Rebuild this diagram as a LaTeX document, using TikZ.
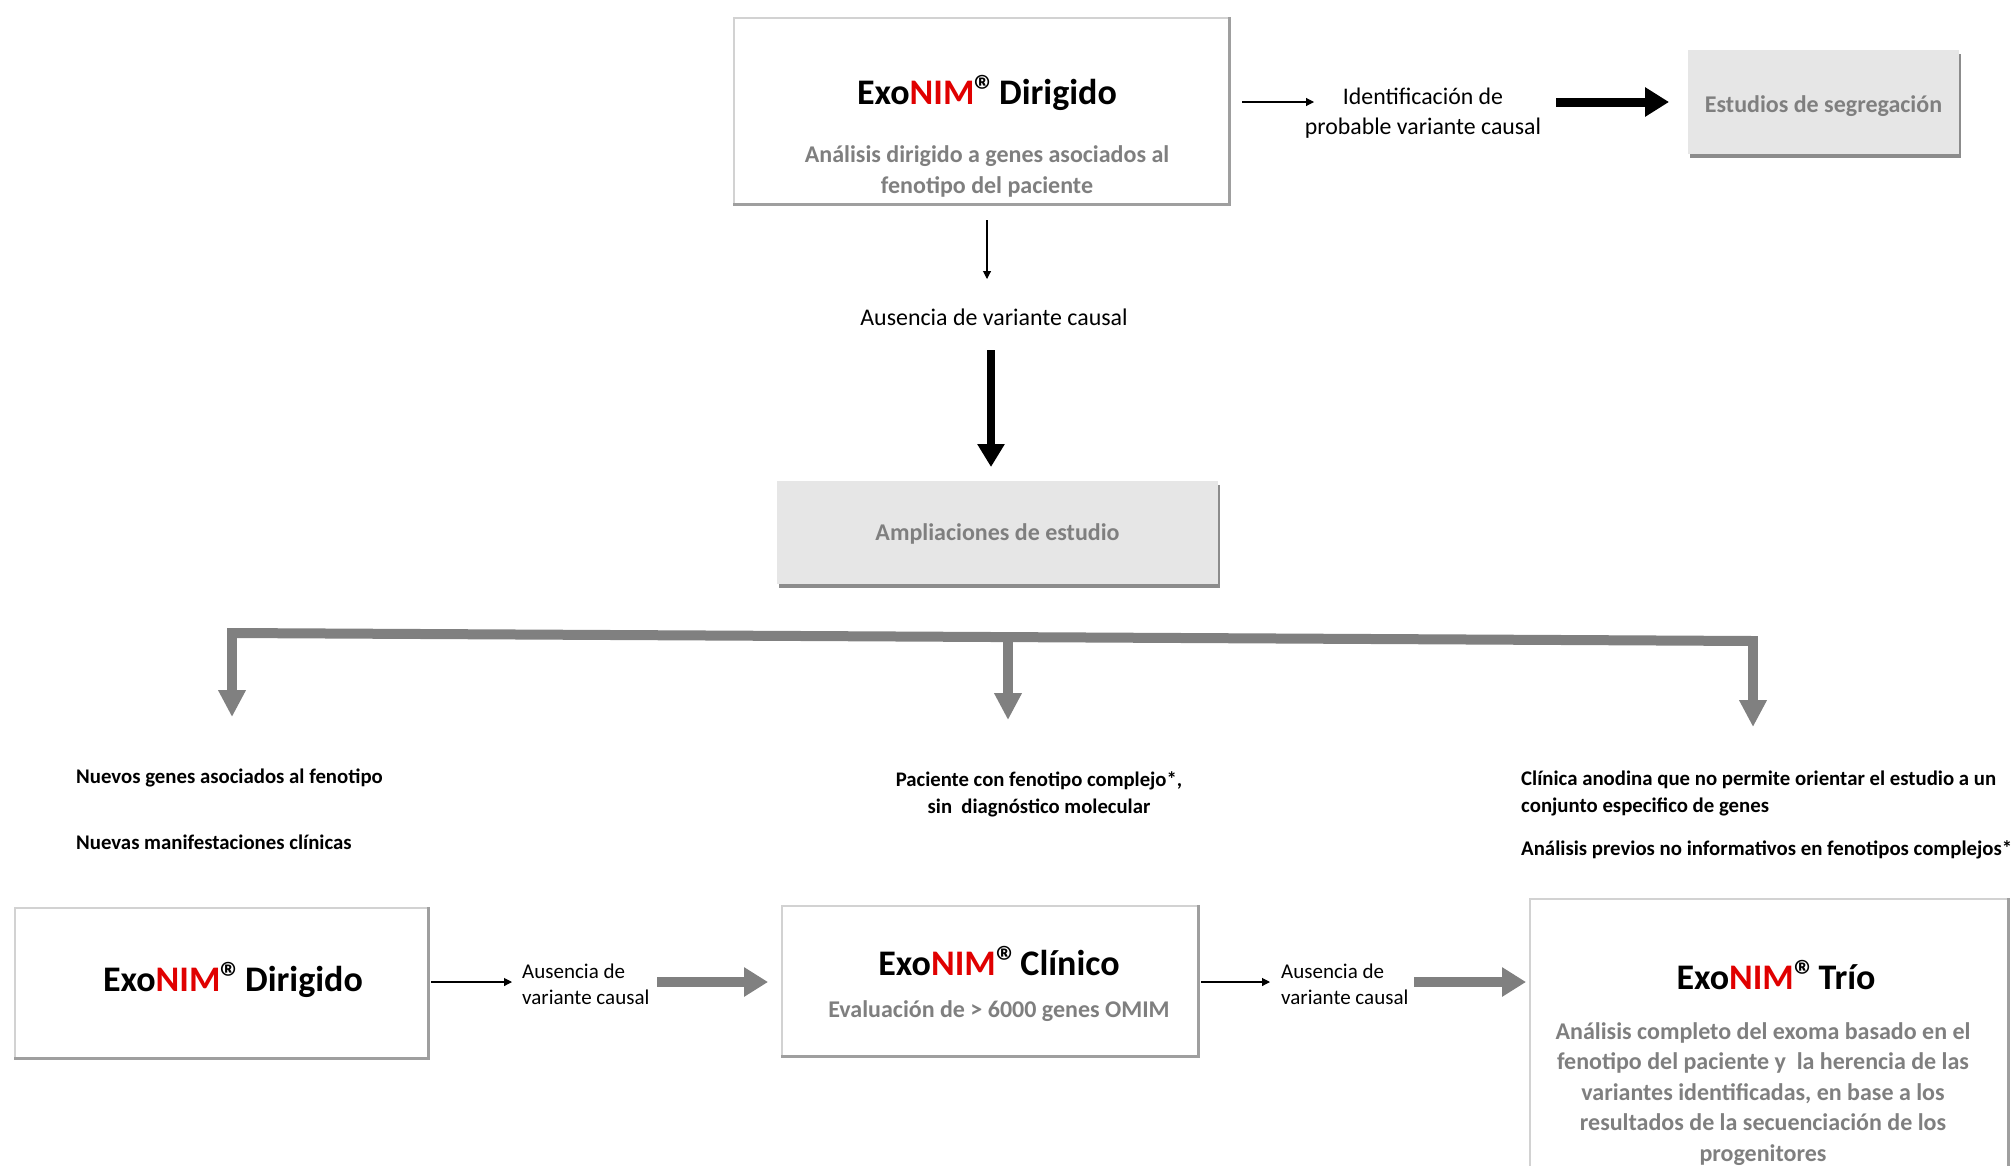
\documentclass[tikz,border=0pt]{standalone}
\usepackage{fontspec}
\usepackage{graphicx}
\setmainfont{Carlito}
\usetikzlibrary{arrows.meta,shadows}
\definecolor{nimred}{HTML}{E00000}
\definecolor{txtgray}{HTML}{7F7F7F}
\definecolor{boxgray}{HTML}{E6E6E6}
\definecolor{arrgray}{HTML}{808080}
\newcommand\regmark{\kern0.01em\raisebox{-0.03em}{\scalebox{1.2}{\textregistered}}\kern-0.16em}
\newcommand\exonim{Exo\textcolor{nimred}{NIM}\regmark}
\newcommand\fsz[2]{\fontsize{#1pt}{#2pt}\selectfont}
\begin{document}
\begin{tikzpicture}[x=1pt,y=-1pt,
  whitebox/.style={draw=gray!35,line width=1.5pt,fill=white,inner sep=0pt},
  bevel/.style={draw=gray!75,line width=3pt},
  graybox/.style={fill=boxgray,inner sep=0pt,
     drop shadow={shadow xshift=2pt,shadow yshift=-4pt,fill=black,opacity=0.45}},
  txt/.style={inner sep=0pt,align=center},
  thinarr/.style={line width=1.1pt,-{Triangle[width=8pt,length=8pt]}},
  blackarr/.style={line width=9pt,-{Triangle[width=28pt,length=24pt]}},
  gline/.style={draw=arrgray,line width=10pt},
  gtip/.style={arrgray,line width=10pt,-{Triangle[width=26pt,length=27pt]}},
  garr/.style={arrgray,line width=10pt,-{Triangle[width=28pt,length=24pt]}},
]
\useasboundingbox[fill=white] (0,0) rectangle (2016,1165);

% ---------- top row ----------
\node[whitebox,minimum width=495pt,minimum height=186pt] (top) at (981.5,111) {};
\draw[bevel] (top.north east) -- (top.south east) -- (top.south west);
\node[txt,font=\fsz{36}{43}\bfseries] (toptitle) at (987,93) {\exonim\ Dirigido};
\node[txt,font=\fsz{24}{31}\bfseries,text=txtgray] (topsub) at (987,171) {Análisis dirigido a genes asociados al\\fenotipo del paciente};

\node[txt,font=\fsz{23.8}{30}] (ident) at (1423,113) {Identificación de\\probable variante causal};
\node[graybox,minimum width=271pt,minimum height=104pt] (est) at (1823.5,102) {};
\node[txt,font=\fsz{24}{29}\bfseries,text=txtgray] (esttxt) at ([yshift=-4pt]est.center) {Estudios de segregación};

\coordinate (a1s) at (1242,102);
\coordinate (a1e) at (1314,102);
\draw[thinarr] (a1s) -- (a1e);
\coordinate (a2s) at (1556,102);
\coordinate (a2e) at (1669,102);
\draw[blackarr] (a2s) -- (a2e);

\coordinate (d1s) at (987,220);
\coordinate (d1e) at (987,279);
\draw[thinarr] (d1s) -- (d1e);
\node[txt,font=\fsz{23.9}{28}] (aus) at (994,317) {Ausencia de variante causal};
\coordinate (d2s) at (991,350);
\coordinate (d2e) at (991,467);
\draw[blackarr,line width=8pt,-{Triangle[width=26pt,length=23pt]}] (d2s) -- (d2e);

\node[graybox,minimum width=441pt,minimum height=103pt] (amp) at (997.5,532.5) {};
\node[txt,font=\fsz{24}{29}\bfseries,text=txtgray] (amptxt) at ([yshift=-1pt]amp.center) {Ampliaciones de estudio};

% ---------- bracket ----------
\coordinate (bl) at (232,633);
\coordinate (bm) at (1008,637);
\coordinate (br) at (1753,641);
\coordinate (tl) at (232,717);
\coordinate (tm) at (1008,720);
\coordinate (tr) at (1753,727);
\draw[gline] (bl) -- (br);
\draw[gtip] ([yshift=5pt]bl) -- (tl);
\draw[gtip] (bm) -- (tm);
\draw[gtip] ([yshift=5pt]br) -- (tr);

% ---------- criteria texts ----------
\node[txt,anchor=west,font=\fsz{20.8}{24}\bfseries] (c1) at (76,778) {Nuevos genes asociados al fenotipo};
\node[txt,anchor=west,font=\fsz{20.8}{24}\bfseries] (c2) at (76,842) {Nuevas manifestaciones clínicas};
\node[txt,font=\fsz{20.7}{27}\bfseries] (c3) at (1039,794) {Paciente con fenotipo complejo*,\\sin\ \ diagnóstico molecular};
\node[txt,anchor=west,align=left,font=\fsz{20.8}{27}\bfseries] (c4) at (1521,793) {Clínica anodina que no permite orientar el estudio a un\\conjunto especifico de genes};
\node[txt,anchor=west,font=\fsz{20.8}{24}\bfseries] (c5) at (1521,850) {Análisis previos no informativos en fenotipos complejos*};

% ---------- bottom row ----------
\node[whitebox,minimum width=413pt,minimum height=150pt] (b1) at (221.5,983) {};
\draw[bevel] (b1.north east) -- (b1.south east) -- (b1.south west);
\node[txt,font=\fsz{36}{43}\bfseries] (b1t) at (233,980) {\exonim\ Dirigido};

\node[whitebox,minimum width=416pt,minimum height=150pt] (b2) at (990,981) {};
\draw[bevel] (b2.north east) -- (b2.south east) -- (b2.south west);
\node[txt,font=\fsz{36}{43}\bfseries] (b2t) at (999,961) {\exonim\ Clínico};
\node[txt,font=\fsz{24}{29}\bfseries,text=txtgray] (b2s) at (999,1011) {Evaluación de > 6000 genes OMIM};

\node[whitebox,minimum width=478pt,minimum height=290pt] (b3) at (1769,1044) {};
\draw[bevel] (b3.north east) -- (b3.south east);
\node[txt,font=\fsz{36}{43}\bfseries] (b3t) at (1776,975) {\exonim\ Trío};
\node[txt,font=\fsz{24}{30.5}\bfseries,text=txtgray] (b3s) at (1763,1094) {Análisis completo del exoma basado en el\\fenotipo del paciente y\ \ la herencia de las\\variantes identificadas, en base a los\\resultados de la secuenciación de los\\progenitores};

\coordinate (e1s) at (431,982);
\coordinate (e1e) at (512,982);
\draw[thinarr] (e1s) -- (e1e);
\node[txt,anchor=west,align=left,font=\fsz{21}{26}] (aus1) at (522,984) {Ausencia de\\variante causal};
\coordinate (g1s) at (657,982);
\coordinate (g1e) at (768,982);
\draw[garr] (g1s) -- (g1e);

\coordinate (e2s) at (1201,982);
\coordinate (e2e) at (1270,982);
\draw[thinarr] (e2s) -- (e2e);
\node[txt,anchor=west,align=left,font=\fsz{21}{26}] (aus2) at (1281,984) {Ausencia de\\variante causal};
\coordinate (g2s) at (1414,982);
\coordinate (g2e) at (1526,982);
\draw[garr] (g2s) -- (g2e);
\end{tikzpicture}
\end{document}
